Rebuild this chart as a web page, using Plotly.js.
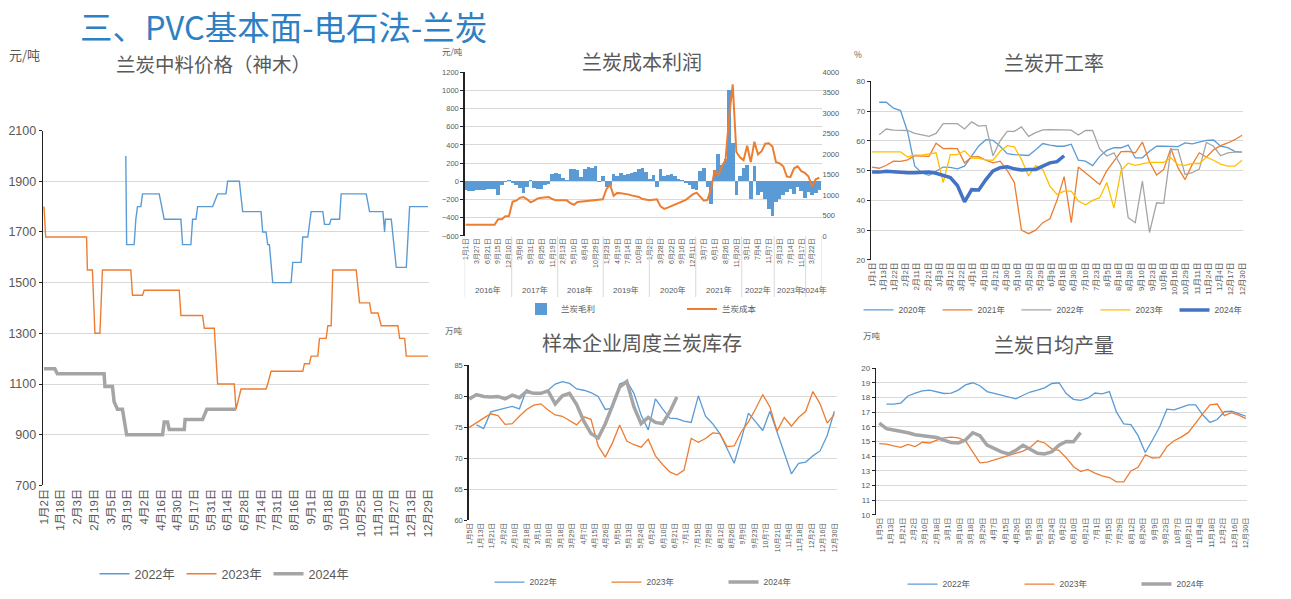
<!DOCTYPE html>
<html>
<head>
<meta charset="utf-8">
<script src="https://cdn.plot.ly/plotly-3.0.1.min.js"></script>
<style>
body { margin: 0; background: #fff; }
#chart { width: 1291px; height: 599px; }
</style>
</head>
<body>
<div id="chart"></div>
<script>
// ---------- data ----------

// 兰炭中料价格（神木）: trading-day number (10 per tick label) and price
const priceTicks = ['1月2日','1月18日','2月3日','2月19日','3月5日','3月19日','4月2日','4月16日','4月30日','5月17日','5月31日','6月14日',
  '6月28日','7月14日','7月31日','8月16日','9月1日','9月18日','10月9日','10月25日','11月10日','11月27日','12月13日','12月29日'];
const price2022Day = [49,49.5,54,55,56,58,59,69,72,82,83,88,89,91,92,101,104,109,110,117,119,130,131,133,134,135,137,148,149,154,
  155,158,160,167,168,171,172,177,178,193,195,203,204,204.5,208,211,217,219,230];
const price2022 = [2000,1650,1650,1750,1800,1800,1850,1850,1750,1750,1650,1650,1750,1750,1800,1800,1850,1850,1900,1900,
  1780,1780,1700,1700,1650,1650,1500,1500,1580,1580,1680,1680,1780,1780,1730,1730,1750,1750,1850,1850,
  1780,1780,1700,1750,1750,1560,1560,1800,1800];
const price2023Day = [0,1,25.5,26,29,30.5,33.5,35,52,53,59,60,81,82,95,96,102,104,114,115,118,133,134,136,155,156,159,160,164,165,
  169,170,172,173,187,189,195,196,200,202,212,213,216,217,230];
const price2023 = [1800,1680,1680,1550,1550,1300,1300,1550,1550,1450,1450,1470,1470,1370,1370,1320,1320,1100,1100,1000,
  1080,1080,1100,1150,1150,1180,1180,1210,1210,1280,1280,1330,1330,1550,1550,1420,1420,1380,1380,1330,
  1330,1280,1280,1210,1210];
const price2024Day = [0,6.5,8,36,36.5,41,42,44,47,49.5,71,72,74,75,84,84.5,95,97.5,115];
const price2024 = [1160,1160,1140,1140,1090,1090,1030,1000,1000,900,900,950,950,920,920,960,960,1000,1000];

// 兰炭成本利润: one sample every third of a tick label
const cpTicks = ['1月1日','3月27日','6月21日','9月15日','12月10日','3月6日','5月31日','8月25日','11月19日','2月13日','5月10日','8月4日',
  '10月29日','1月23日','4月19日','7月14日','10月8日','1月2日','3月28日','6月22日','9月16日','12月11日','3月7日','6月1日','8月26日',
  '11月20日','3月1日','7月4日','11月7日','3月13日','7月14日','11月17日','3月22日'];
const cpYears = ['2016年','2017年','2018年','2019年','2020年','2021年','2022年','2023年','2024年'];
const cpYearStart = [-0.3,12.75,25.5,38.1,50.9,63.75,76.5,85.5,94.2,98.6];
const profit = [-100,-105,-105,-100,-100,-95,-90,-85,-80,-150,-40,-10,15,-20,-40,-70,-130,-60,15,-70,
  -90,-80,-40,-30,80,90,80,40,10,130,140,120,50,140,160,150,165,-10,60,-60,
  -50,80,60,90,70,80,90,100,130,150,100,30,70,-60,130,60,70,80,60,20,
  10,-20,-40,-80,-100,110,150,-60,-250,120,300,180,250,1000,420,-150,60,150,180,-200,
  170,-150,-120,-200,-300,-380,-230,-200,-150,-120,-90,-140,-60,-110,-180,-120,-150,-130,-100];
const cost = [270,270,270,270,270,270,270,270,270,405,405,480,487,836,860,930,950,893,820,860,
  917,930,940,950,900,868,868,870,868,800,760,830,840,850,852,870,885,893,895,1140,
  1250,980,1050,1040,1030,1014,990,970,950,900,880,868,880,893,720,660,690,730,770,800,
  836,880,950,1020,1055,960,860,880,1150,1600,1470,1700,1850,2900,3700,2050,1920,1850,2200,1800,
  2300,1990,2070,2250,2260,2180,1800,1770,1700,1450,1440,1650,1700,1580,1540,1450,1200,1380,1420];

// 兰炭开工率 (%), weekly
const rateTicks = ['1月1日','1月13日','1月22日','2月2日','2月11日','2月21日','3月3日','3月12日','3月22日','4月1日','4月10日','4月21日',
  '4月30日','5月10日','5月20日','5月29日','6月9日','6月18日','6月30日','7月10日','7月23日','8月5日','8月18日','8月28日','9月10日',
  '9月23日','10月6日','10月16日','10月29日','11月11日','11月24日','12月4日','12月17日','12月30日'];
const rate2020 = [null,73,73,71,70.2,63,51.5,49.2,48.4,49.8,51.2,51.1,50.6,51.5,54.7,58.3,60.4,60.2,58.2,55.7,
  55.4,55.2,55.1,57,59.1,58.6,58.2,58.2,58.9,53.5,53.2,51.7,54.8,56.8,57.7,57.7,58.6,54.3,54.3,56.5,
  58.2,58.2,58.2,58.1,59.3,59,59.6,60.2,60.3,58.2,57.7,56.5,56.2];
const rate2021 = [51.2,50.8,51.8,53.2,53.1,53.6,55,55,54.8,59.2,57.4,57.5,57.4,52.6,54.6,54.7,53.5,52.6,53.2,50.1,
  46,30,28.8,30,32.5,33.8,40,48,32.5,51.2,49.2,47,45.3,50,53.3,56.4,56.5,56,59.6,53,
  48.5,50.4,57.5,51,47,52,56,54.5,57,58.4,59.3,60.4,61.9];
const rate2022 = [null,62.1,64,63.6,63.6,63.5,62.5,61.9,61.5,62.5,65.8,65.8,65.8,64,66.4,65,65.2,55,60,63.2,
  63.2,64.7,61.5,62.8,63.7,63.8,63.8,63.7,63.6,62,63.5,63.5,57.3,54.9,56,51.5,34.2,32.5,46.5,29.2,
  39.2,39,57.1,57.1,48.7,49.3,50.5,59.5,58.2,55,56,56.2,56.2];
const rate2023 = [56.3,56.3,56.3,56.3,56.3,54.6,55.2,55.2,55.7,56,46,55.4,55.4,56.7,54.2,54.1,53.6,53.5,56.5,58.4,
  58,53.8,48.2,51.7,50.4,44.8,42,43.1,43.1,39.8,38.5,40,40.9,46,37.4,50,52.5,51.8,52.3,52.8,
  52.8,52.8,54.3,52,51.8,52.4,52.4,54.5,53.5,52.2,51.5,51.5,53.5];
const rate2024 = [49.5,49.5,49.8,49.6,49.4,49.3,49.3,49.3,49.5,49.1,48.4,47.7,45,39.5,43.6,43.5,47,49.9,51,51.3,
  50.6,50.2,50.4,50.4,51.5,52.6,53,55];

// 样本企业周度兰炭库存 / 兰炭日均产量 (万吨), weekly
const weekTicks = ['1月5日','1月13日','1月21日','2月2日','2月10日','2月18日','3月1日','3月10日','3月18日','3月29日','4月7日','4月15日',
  '4月26日','5月5日','5月13日','5月24日','6月2日','6月10日','6月21日','7月1日','7月15日','7月29日','8月12日','8月26日','9月9日',
  '9月23日','10月7日','10月21日','11月4日','11月18日','12月2日','12月16日','12月30日'];
const inv2022 = [null,75.4,74.8,77.5,77.8,78.2,78.4,78,81.1,80.5,80.5,81,82,82.4,82.1,81.2,81,80.6,80,77.9,
  78.1,82,82.5,80.5,77,74.6,79.6,78,76.5,76.4,76,75.8,80.1,76.8,75.6,74,71.5,69.2,73.1,77.3,
  75.9,74.5,77.6,74.2,71,67.5,69.2,69.4,70.4,71.2,73.7,77.6];
const inv2023 = [75,75.8,76.5,77.2,76.9,75.5,75.6,76.8,77.9,78.6,78.8,77.8,77,76.8,76.1,75.4,76.7,76.3,72,70.2,
  72.5,75.4,72.8,72.2,71.8,73.1,70.4,69,67.8,67.3,68.1,73.2,72.6,73.2,74.1,74,71.9,72,74.3,75.9,
  78,80.3,78.3,74.4,76.6,75.2,76.6,77.6,80.8,78.8,75.7,77.1];
const inv2024 = [79.6,80.3,80,79.9,80,79.6,80.2,79.8,80.8,80.5,80.5,80.9,78.8,80.1,80.5,78.7,76,74,73.3,75.6,
  78.5,81.5,82.4,78.3,75.6,76.6,75.8,75.6,77.5,79.9];
const out2022 = [null,17.55,17.55,17.62,18.1,18.3,18.45,18.5,18.4,18.27,18.3,18.5,18.85,19,18.8,18.4,18.27,18.15,18,17.9,
  18.15,18.37,18.5,18.65,18.95,19,18.27,17.87,17.8,17.95,18.3,18.25,18.4,17,16.2,16.15,15.4,14.25,15.1,16,
  17.2,17.15,17.33,17.5,17.5,16.8,16.3,16.5,17.03,17.06,16.9,16.72];
const out2023 = [14.86,14.82,14.7,14.6,14.8,14.66,14.95,14.9,15.1,15.25,15.3,15.25,15.05,14.3,13.55,13.6,13.75,13.9,14.05,14.2,
  14.35,14.6,15.05,14.9,14.5,14.4,13.9,13.3,12.95,13.1,12.85,12.66,12.55,12.26,12.26,13,13.25,14.1,13.88,13.9,
  14.65,15.05,15.3,15.62,16.3,16.9,17.5,17.55,16.76,16.97,16.8,16.56];
const out2024 = [16.25,15.88,15.78,15.72,15.6,15.46,15.38,15.3,15.27,15.1,14.93,14.9,15.1,15.6,15.4,14.75,14.52,14.3,14.15,14.4,
  14.75,14.45,14.2,14.15,14.3,14.75,15,14.98,15.6];

// ---------- layout helpers (pixel -> paper) ----------
const W = 1291, H = 599;
const dx = (a, b) => [a / W, b / W];
const dy = (top, bottom) => [1 - bottom / H, 1 - top / H];
const px = x => x / W;
const py = y => 1 - y / H;
const idx = arr => arr.map((_, i) => i);

const BLUE = '#5B9BD5', ORANGE = '#ED7D31', GREY = '#A5A5A5', YELLOW = '#FFC000', DARKBLUE = '#4472C4';
const TXT = '#595959', GRID = '#D9D9D9';
const FONT = 'Liberation Sans, Noto Sans CJK SC, sans-serif';
const CJK = 'Noto Sans CJK SC, sans-serif';

function yAxis(domain, range, dtick, size, anchor) {
  return {
    domain: domain, range: range, tick0: range[0], dtick: dtick, anchor: anchor,
    showgrid: true, gridcolor: GRID, gridwidth: 1, zeroline: false,
    showline: true, linecolor: '#222', linewidth: 1.3,
    ticks: 'outside', ticklen: 3, tickcolor: '#222',
    tickfont: { size: size, color: TXT }, fixedrange: true
  };
}
function xAxis(domain, range, vals, text, size, anchor) {
  return {
    domain: domain, range: range, anchor: anchor,
    tickmode: 'array', tickvals: vals, ticktext: text, tickangle: -90,
    showgrid: false, zeroline: false, showline: false, ticks: '',
    tickfont: { size: size, color: TXT }, fixedrange: true
  };
}
function line(x, y, name, color, width, xa, ya, leg) {
  return { type: 'scatter', mode: 'lines', x: x, y: y, name: name, xaxis: xa, yaxis: ya, legend: leg,
    line: { color: color, width: width }, connectgaps: false, hoverinfo: 'skip' };
}

// ---------- traces ----------
let data = [
  line(price2022Day, price2022, '2022年', BLUE, 1.4, 'x', 'y', 'legend'),
  line(price2023Day, price2023, '2023年', ORANGE, 1.4, 'x', 'y', 'legend'),
  line(price2024Day, price2024, '2024年', GREY, 3.5, 'x', 'y', 'legend'),

  { type: 'bar', x: idx(profit), y: profit, name: '兰炭毛利', xaxis: 'x2', yaxis: 'y2', legend: 'legend2',
    marker: { color: BLUE, line: { width: 0 } }, width: 1, hoverinfo: 'skip' },
  line(idx(cost), cost, '兰炭成本', ORANGE, 2, 'x2', 'y3', 'legend2'),

  line(idx(rate2020), rate2020, '2020年', BLUE, 1.3, 'x4', 'y4', 'legend3'),
  line(idx(rate2021), rate2021, '2021年', ORANGE, 1.3, 'x4', 'y4', 'legend3'),
  line(idx(rate2022), rate2022, '2022年', GREY, 1.3, 'x4', 'y4', 'legend3'),
  line(idx(rate2023), rate2023, '2023年', YELLOW, 1.3, 'x4', 'y4', 'legend3'),
  line(idx(rate2024), rate2024, '2024年', DARKBLUE, 3.5, 'x4', 'y4', 'legend3'),

  line(idx(inv2022), inv2022, '2022年', BLUE, 1.3, 'x5', 'y5', 'legend4'),
  line(idx(inv2023), inv2023, '2023年', ORANGE, 1.3, 'x5', 'y5', 'legend4'),
  line(idx(inv2024), inv2024, '2024年', GREY, 3.5, 'x5', 'y5', 'legend4'),

  line(idx(out2022), out2022, '2022年', BLUE, 1.3, 'x6', 'y6', 'legend5'),
  line(idx(out2023), out2023, '2023年', ORANGE, 1.3, 'x6', 'y6', 'legend5'),
  line(idx(out2024), out2024, '2024年', GREY, 3.5, 'x6', 'y6', 'legend5')
];

// year row under the cost/profit axis
let yearNotes = cpYears.map((t, i) => ({
  text: t, xref: 'x2', yref: 'paper', x: (cpYearStart[i] + cpYearStart[i + 1]) / 2, y: py(291),
  showarrow: false, font: { size: 8, color: TXT, family: FONT }
}));
let yearLines = cpYearStart.map(v => ({
  type: 'line', xref: 'x2', yref: 'paper', x0: v, x1: v, y0: py(237), y1: py(298),
  line: { color: GRID, width: 1 }
}));

function note(text, x, y, size, anchor, color, vanchor) {
  return { text: text, xref: 'paper', yref: 'paper', x: px(x), y: py(y), xanchor: anchor || 'center', yanchor: vanchor || 'middle',
    showarrow: false, font: { size: size, color: color || TXT, family: CJK } };
}
function legendAt(x, y, size, entry) {
  return { orientation: 'h', x: px(x), y: py(y), xanchor: 'center', yanchor: 'middle',
    font: { size: size, color: TXT, family: FONT }, itemwidth: 30, entrywidth: entry, entrywidthmode: 'pixels',
    bgcolor: 'rgba(0,0,0,0)', tracegroupgap: 0 };
}

let layout = {
  width: W, height: H,
  margin: { l: 0, r: 0, t: 0, b: 0 },
  paper_bgcolor: '#fff', plot_bgcolor: '#fff',
  font: { family: FONT, color: TXT },
  showlegend: true,
  bargap: 0,

  xaxis: xAxis(dx(43, 429), [-0.6, 230.6], priceTicks.map((_, i) => i * 10), priceTicks, 11.5, 'y'),
  yaxis: yAxis(dy(131, 487), [700, 2100], 200, 12.5, 'x'),

  xaxis2: xAxis(dx(464.6, 821.5), [-0.3, 98.6], cpTicks.map((_, i) => i * 3), cpTicks, 7, 'y2'),
  yaxis2: yAxis(dy(72.3, 236.7), [-600, 1200], 200, 7.5, 'x2'),
  yaxis3: { overlaying: 'y2', side: 'right', anchor: 'x2', range: [0, 4000], tick0: 0, dtick: 500,
    showgrid: false, zeroline: false, showline: false, ticks: '',
    tickfont: { size: 7.5, color: TXT }, fixedrange: true },

  xaxis4: xAxis(dx(871, 1243.4), [-0.15, 52.2], rateTicks.map((_, i) => i * 52 / 33), rateTicks, 7.8, 'y4'),
  yaxis4: yAxis(dy(81.7, 260.7), [20, 80], 10, 8, 'x4'),

  xaxis5: xAxis(dx(468.6, 836.5), [-0.1, 51.3], weekTicks.map((_, i) => i * 51 / 32), weekTicks, 7, 'y5'),
  yaxis5: yAxis(dy(366.7, 522), [60, 85], 5, 7.5, 'x5'),

  xaxis6: xAxis(dx(876, 1247.4), [-0.45, 51.2], weekTicks.map((_, i) => i * 51 / 32), weekTicks, 7.3, 'y6'),
  yaxis6: yAxis(dy(369.3, 516.7), [10, 20], 1, 8, 'x6'),

  legend: legendAt(225, 576, 12.5, 42),
  legend2: legendAt(682, 310, 8.5, 116),
  legend3: legendAt(1056, 311, 8.5, 34),
  legend4: legendAt(665, 584, 8.5, 72),
  legend5: legendAt(1078, 586, 8.5, 72),

  shapes: yearLines,
  annotations: [
    note('三、PVC基本面-电石法-兰炭', 78, 0, 32.5, 'left', '#2E80C4', 'top'),
    note('元/吨', 7, 55, 13, 'left'),
    note('兰炭中料价格（神木）', 213, 64, 19.5),
    note('元/吨', 440, 51, 8.5, 'left'),
    note('兰炭成本利润', 642, 62, 20),
    note('%', 852, 54, 8.5, 'left'),
    note('兰炭开工率', 1054, 63, 20),
    note('万吨', 443, 331, 8.5, 'left'),
    note('样本企业周度兰炭库存', 642, 344, 20),
    note('万吨', 861, 336, 8.5, 'left'),
    note('兰炭日均产量', 1054, 346, 20)
  ].concat(yearNotes)
};

Plotly.newPlot('chart', data, layout, { displayModeBar: false, staticPlot: true });
</script>
</body>
</html>
